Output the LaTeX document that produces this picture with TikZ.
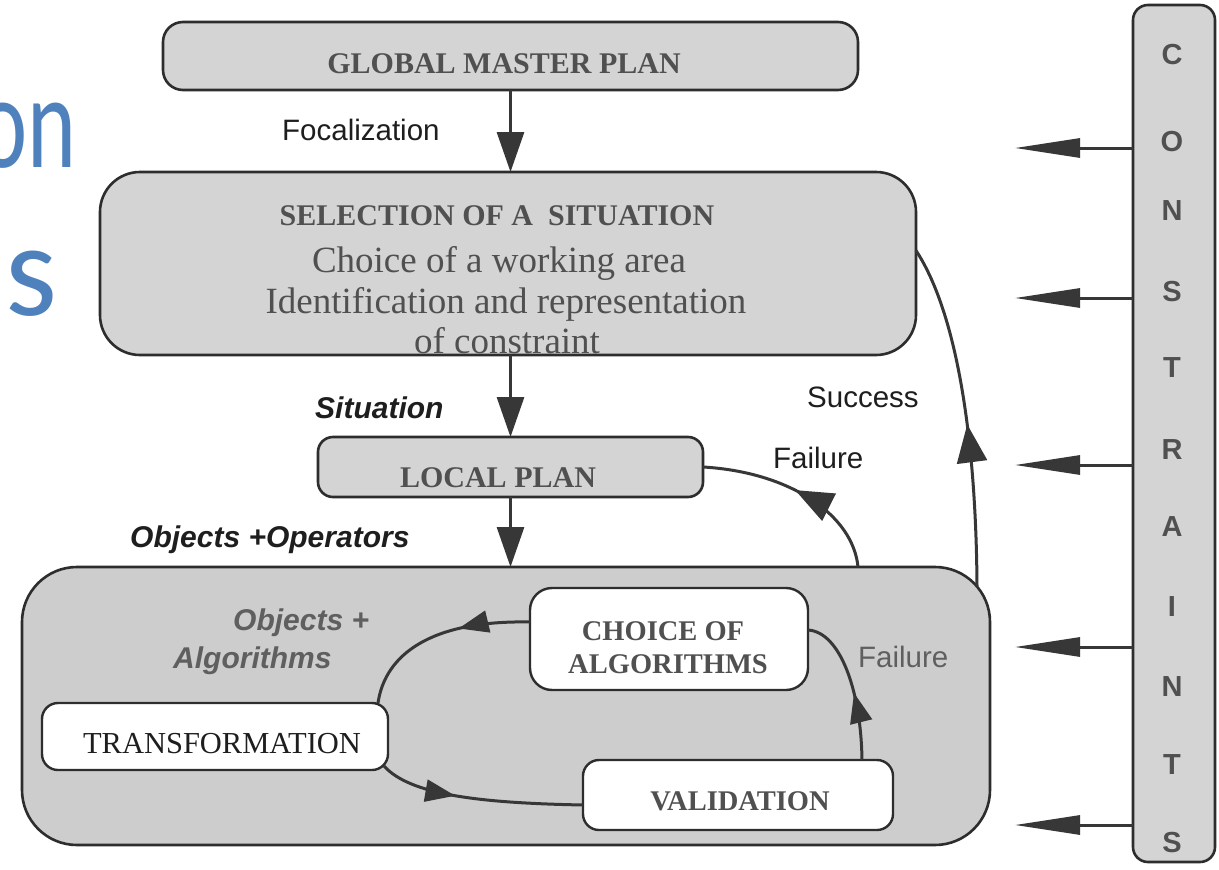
\documentclass[tikz,border=0pt]{standalone}
\usepackage{fontspec}
\setmainfont{Liberation Serif}
\setsansfont{Liberation Sans}
\newfontfamily\blufont{Carlito}
\usetikzlibrary{arrows.meta,decorations.markings,calc}
\definecolor{boxgray}{RGB}{212,212,212}
\definecolor{biggray}{RGB}{205,205,205}
\definecolor{bord}{RGB}{45,45,45}
\definecolor{linegray}{RGB}{55,55,55}
\definecolor{txtgray}{RGB}{80,80,80}
\definecolor{lbltxt}{RGB}{30,30,30}
\definecolor{innertxt}{RGB}{95,95,95}
\definecolor{slideblue}{RGB}{79,129,189}
\begin{document}
\begin{tikzpicture}[x=1pt,y=-1pt,
  box/.style={draw=bord, line width=2.6pt, fill=boxgray, inner sep=0pt, outer sep=0pt},
  wbox/.style={draw=bord, line width=2.4pt, fill=white, inner sep=0pt, outer sep=0pt, rounded corners=16pt},
  captxt/.style={font=\fontsize{30}{36}\selectfont\bfseries, text=txtgray, inner sep=0pt, anchor=base},
  smcaptxt/.style={font=\fontsize{28.5}{34}\selectfont\bfseries, text=txtgray, inner sep=0pt, anchor=base},
  bodytxt/.style={font=\fontsize{37}{42}\selectfont, text=txtgray, inner sep=0pt, anchor=base},
  lbl/.style={font=\sffamily\fontsize{29.5}{34}\selectfont, text=lbltxt, inner sep=0pt, anchor=base west},
  bilbl/.style={font=\sffamily\bfseries\itshape\fontsize{30}{34}\selectfont, text=lbltxt, inner sep=0pt, anchor=base west},
  letter/.style={font=\sffamily\bfseries\fontsize{29}{32}\selectfont, text=txtgray, inner sep=0pt},
  bluetxt/.style={font=\blufont\fontsize{133}{150}\selectfont, text=slideblue, inner sep=0pt},
  conn/.style={draw=linegray, line width=3pt},
  downarr/.style={conn, -{Triangle[length=40pt,width=27pt]}},
  carr/.style={conn, -{Triangle[length=65pt,width=19pt]}},
  marrowbig/.style={postaction={decorate}, decoration={markings, mark=at position #1 with {\arrow[linegray]{Triangle[length=38pt,width=30pt]}}}},
  marrowsmall/.style={postaction={decorate}, decoration={markings, mark=at position #1 with {\arrow[linegray]{Triangle[length=30pt,width=22pt]}}}}
]
\useasboundingbox (0,0) rectangle (1219,870);
\fill[white] (0,0) rectangle (1219,870);

% slide text fragments
\node[bluetxt, anchor=base east] (blueA) at (77,167) {\scalebox{0.7}[1]{on}};
\node[bluetxt, anchor=base west] (blueB) at (5,315) {s};

% boxes
\node[box, rounded corners=20pt, minimum width=695pt, minimum height=68pt] (glob) at (510.5,56) {};
\node[box, rounded corners=40pt, minimum width=816pt, minimum height=183pt] (sel) at (508,263.5) {};
\node[box, rounded corners=15pt, minimum width=385pt, minimum height=60pt] (loc) at (510.5,467) {};
\node[box, fill=biggray, rounded corners=55pt, minimum width=968pt, minimum height=278pt] (big) at (506,706) {};
\node[wbox, rounded corners=22pt, minimum width=278pt, minimum height=102pt] (choice) at (669,639) {};
\node[wbox, minimum width=346pt, minimum height=67pt] (transf) at (215,736.5) {};
\node[wbox, minimum width=310pt, minimum height=70pt] (valid) at (738,795) {};
\node[box, rounded corners=15pt, minimum width=82pt, minimum height=857pt] (constr) at (1174,433.5) {};

% box texts
\node[captxt] (globT) at (504,73) {GLOBAL MASTER PLAN};
\node[captxt] (selT) at (497,225) {SELECTION OF A\ \ SITUATION};
\node[bodytxt] (selA) at (499,272) {Choice of a working area};
\node[bodytxt] (selB) at (506,313) {Identification and representation};
\node[bodytxt] (selC) at (507,353) {of constraint};
\node[captxt] (locT) at (498,487) {LOCAL PLAN};
\node[smcaptxt] (choT1) at (663,640) {CHOICE OF};
\node[smcaptxt] (choT2) at (668,673) {ALGORITHMS};
\node[font=\fontsize{30.5}{36}\selectfont, text=lbltxt, inner sep=0pt, anchor=base] (trT) at (222,753) {TRANSFORMATION};
\node[smcaptxt] (vaT) at (740,810) {VALIDATION};

% labels
\node[lbl] (focal) at (282,140) {Focalization};
\node[bilbl] (situ) at (315,418) {Situation};
\node[bilbl] (objop) at (130,547) {Objects +Operators};
\node[bilbl, text=innertxt] (objalA) at (233,630) {Objects +};
\node[bilbl, text=innertxt] (objalB) at (173,668) {Algorithms};
\node[lbl] (succ) at (807,407) {Success};
\node[lbl] (fail1) at (773,468) {Failure};
\node[lbl, text=innertxt] (fail2) at (858,667) {Failure};

% constraint letters
\foreach \ch/\yy/\nm in {C/55/l1, O/142/l2, N/211/l3, S/292/l4, T/368/l5, R/450/l6, A/527/l7, I/607/l8, N/687/l9, T/765/l10, S/843/l11}
  \node[letter] (\nm) at (1172,\yy) {\ch};

% vertical flow arrows
\draw[downarr] (glob.south -| loc.north) -- (sel.north -| loc.north);
\draw[downarr] (sel.south -| loc.north) -- (loc.north);
\draw[downarr] (loc.south) -- (big.north -| loc.south);

% success / failure feedback
\coordinate (succS) at ($(big.north east)+(-13,19)$);
\draw[conn, marrowbig=0.47] (succS) .. controls (976,430) and (955,310) .. ($(sel.east)+(0,-13)$);
\draw[conn, marrowbig=0.52] ($(big.north)+(352,0)$) .. controls (853,515) and (790,472) .. (loc.east);

% inner cycle
\draw[conn, marrowsmall=0.38] ($(choice.west)+(0,-17)$) .. controls (430,620) and (385,655) .. ($(transf.north east)+(-10,0)$);
\draw[conn, marrowsmall=0.38] ($(transf.south east)+(-4,-4)$) .. controls (410,795) and (480,803) .. ($(valid.west)+(0,10)$);
\draw[conn, marrowsmall=0.45] ($(valid.north east)+(-31,0)$) .. controls (861,690) and (840,632) .. ($(choice.east)+(0,-9)$);

% constraint arrows
\foreach \yy/\nm in {148/c1, 298/c2, 465/c3, 647/c4, 825/c5} {
  \coordinate (\nm) at (1015,\yy);
  \draw[carr] (constr.west |- \nm) -- (\nm);
}
\end{tikzpicture}
\end{document}
